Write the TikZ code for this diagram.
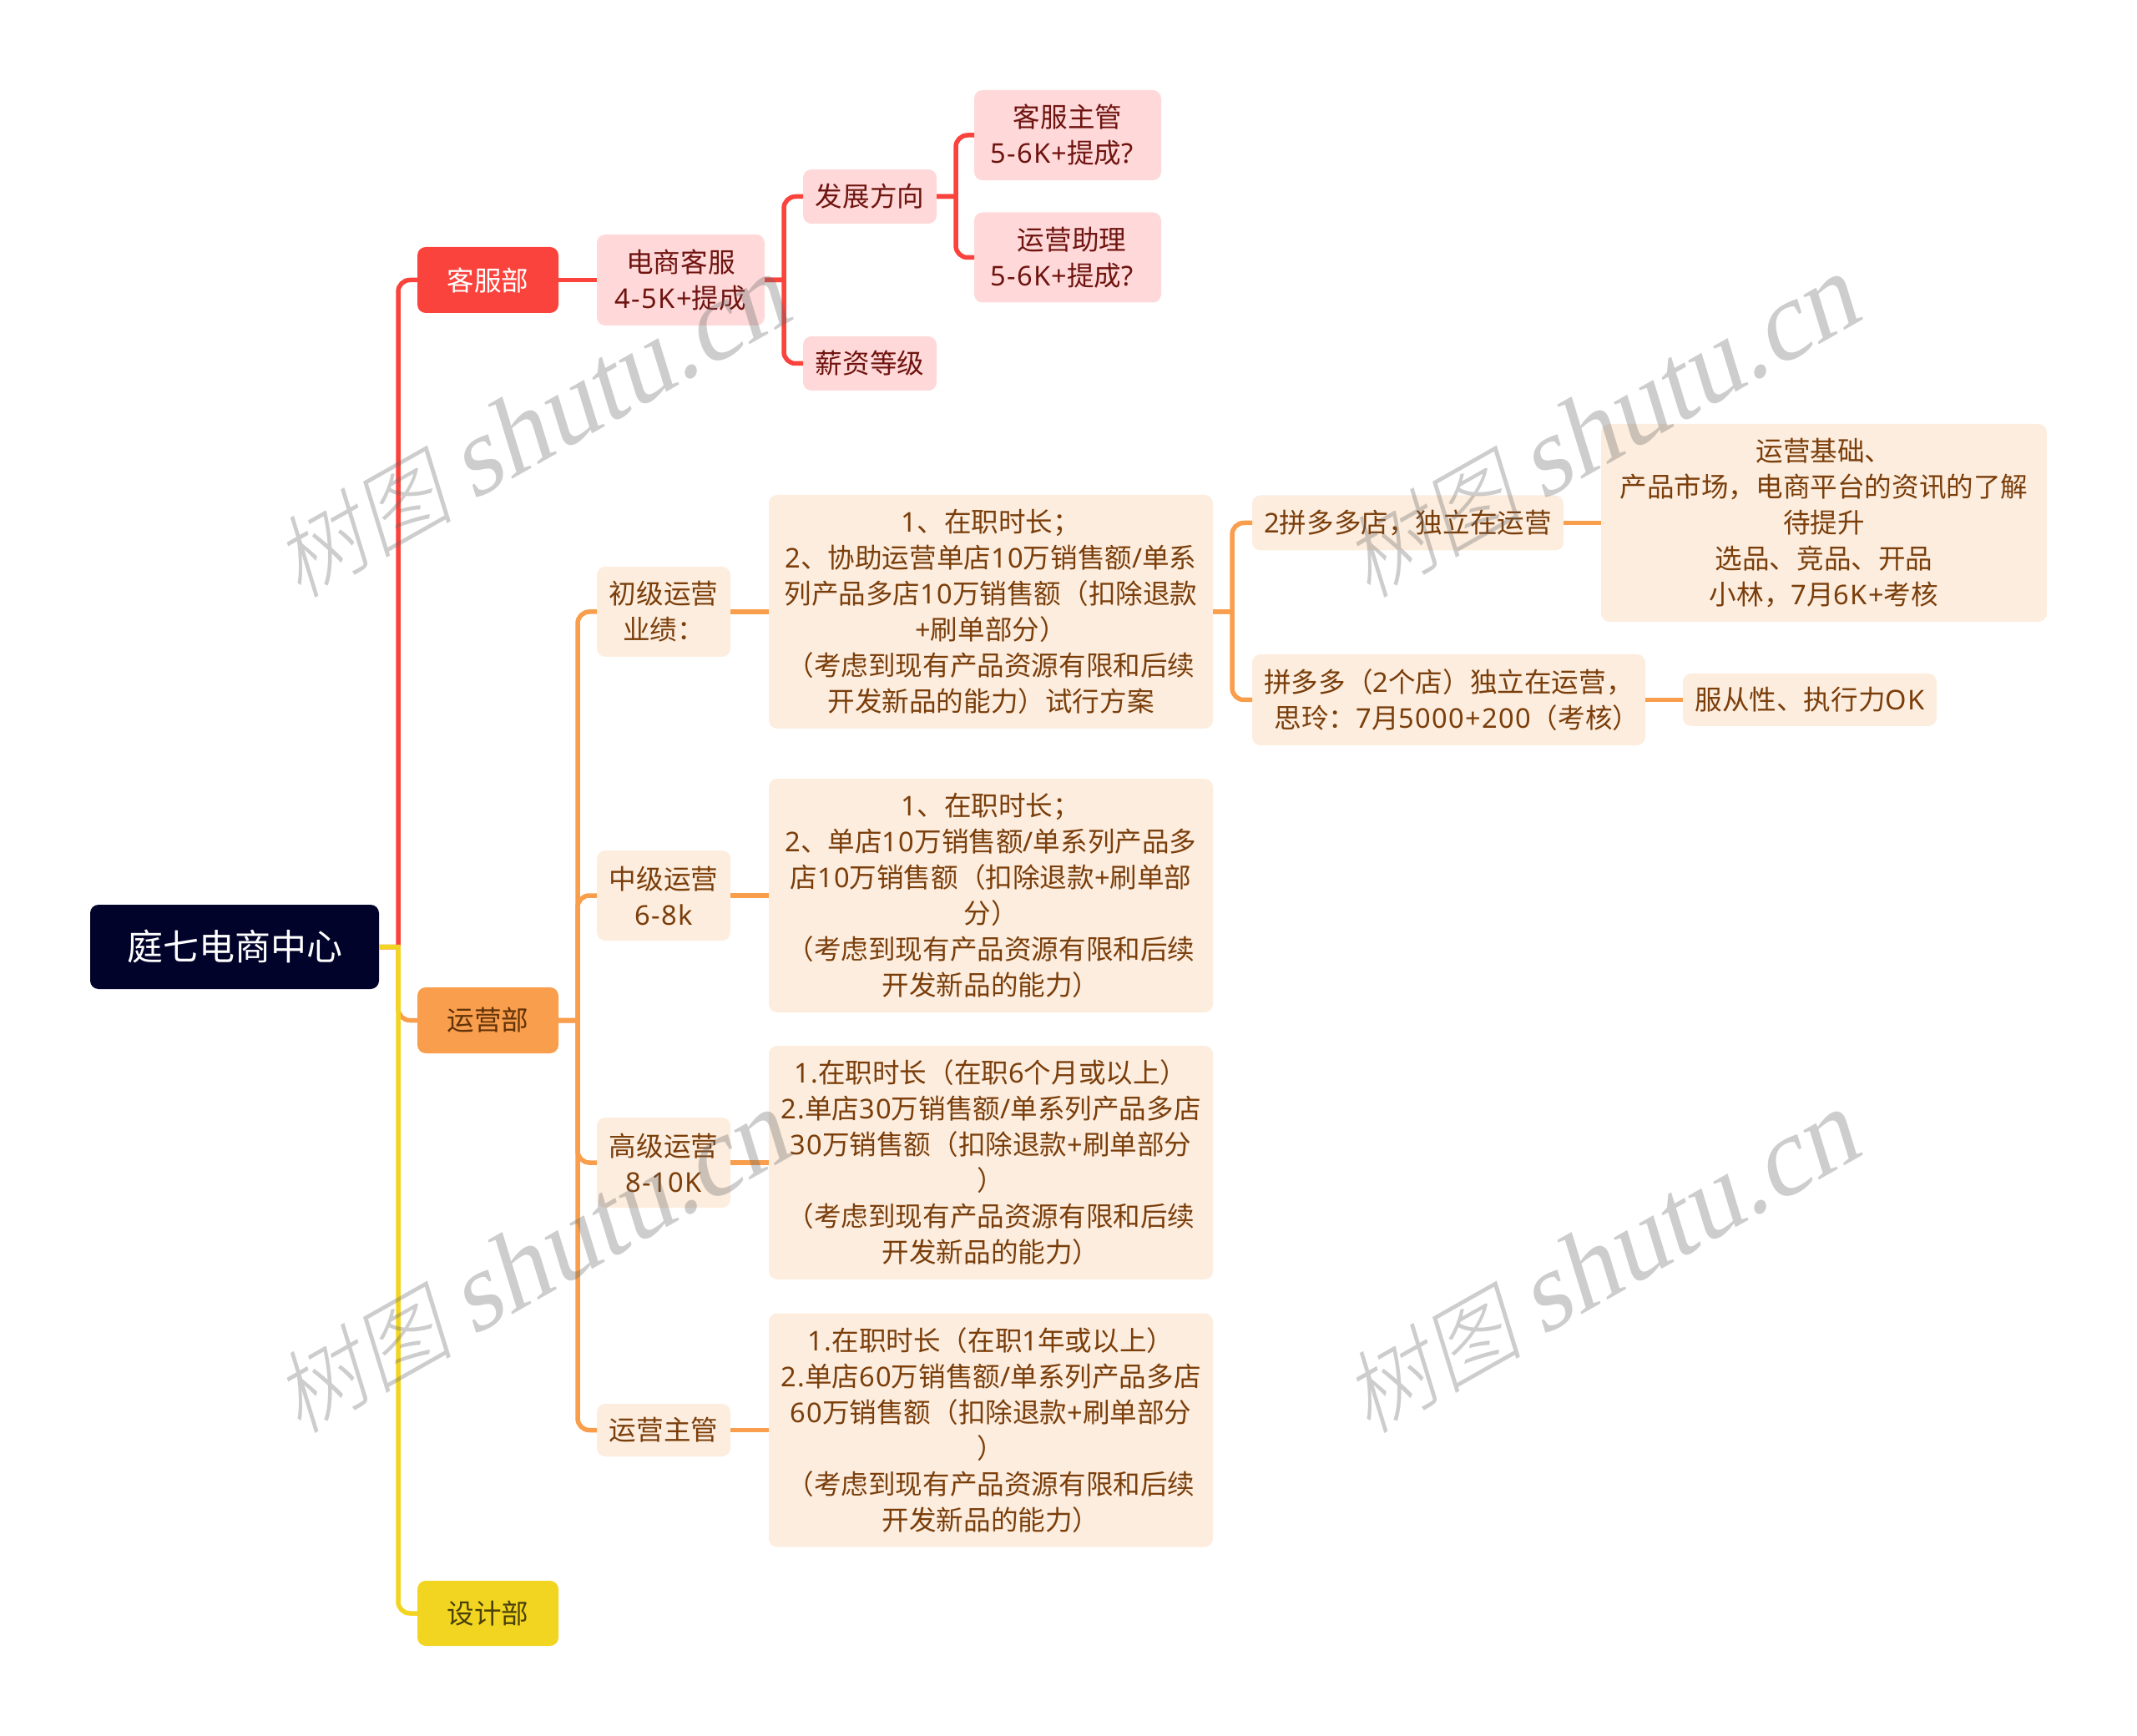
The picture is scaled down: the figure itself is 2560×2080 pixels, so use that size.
\documentclass[tikz,border=0pt]{standalone}
\usepackage{fontspec}
\setmainfont{Noto Sans CJK SC}
\newfontfamily\markcjk[FakeSlant=0.22]{Noto Sans CJK SC Light}
\newfontfamily\marklatin[FakeSlant=0.22]{Liberation Serif}
\newfontfamily\latinfont[LetterSpace=4]{Noto Sans}
\newcommand{\la}[1]{{\latinfont #1}}
\usetikzlibrary{positioning}
\definecolor{rootnavy}{HTML}{02032B}
\definecolor{redmain}{HTML}{FA433C}
\definecolor{redsoft}{HTML}{FFD9D9}
\definecolor{redtext}{HTML}{6F1410}
\definecolor{orangemain}{HTML}{F89E4C}
\definecolor{orangesoft}{HTML}{FDEDDE}
\definecolor{orangetext}{HTML}{7A3E0B}
\definecolor{yellowmain}{HTML}{F2D521}
\tikzset{
  every picture/.append style={x=.5pt,y=.5pt},
  every box/.style={rectangle,rounded corners=5pt,inner sep=0pt,outer sep=0pt,align=center,font=\fontsize{16.3}{21.5}\selectfont},
  rootbox/.style={every box,fill=rootnavy,text=white,font=\fontsize{21.5}{26}\selectfont},
  redhead/.style={every box,fill=redmain,text=white},
  orangehead/.style={every box,fill=orangemain,text=orangetext!80!black},
  yellowhead/.style={every box,fill=yellowmain,text=black!70!yellowmain},
  redbox/.style={every box,fill=redsoft,text=redtext},
  orangebox/.style={every box,fill=orangesoft,text=orangetext},
  wire/.style={line width=2.75pt,rounded corners=7pt},
  elbow/.style={wire,to path={(\tikztostart.east) -- ++(25.7,0) (\tikztostart.east) ++(23,0) |- (\tikztotarget.west)}},
  straight/.style={wire,to path={(\tikztostart.east) -- (\tikztotarget.west)}},
  shutu/.style={rotate=29.5,text=black!60,text opacity=.33}
}
\newcommand{\shutumark}{{\fontsize{54}{54}\markcjk 树图}\hspace{12pt}{\fontsize{66}{66}\marklatin shutu.cn}}

\begin{document}
\begin{tikzpicture}
    \useasboundingbox (0,0) rectangle (2560,-2080);

    \node (node root) [rootbox,minimum width=173pt,minimum height=50.5pt] at (281,-1134.5) {庭七电商中心};

    \node (node kefu) [redhead,minimum width=84.5pt,minimum height=39.5pt,right=23pt of node root,yshift=399.5pt] {客服部};
    \node (node yunying) [orangehead,minimum width=84.5pt,minimum height=39.5pt,right=23pt of node root,yshift=-44pt] {运营部};
    \node (node sheji) [yellowhead,minimum width=84.5pt,minimum height=39pt,right=23pt of node root,yshift=-399.25pt] {设计部};

    \node (node dianshang) [redbox,minimum width=100.5pt,minimum height=54.5pt,right=23pt of node kefu] {电商客服\\\la{4-5K+}提成};
    \node (node fazhan) [redbox,minimum width=80pt,minimum height=32.5pt,right=23pt of node dianshang,yshift=50pt] {发展方向};
    \node (node xinzi) [redbox,minimum width=80pt,minimum height=32.5pt,right=23pt of node dianshang,yshift=-50pt] {薪资等级};
    \node (node kezhu) [redbox,minimum width=112pt,minimum height=54pt,right=22.5pt of node fazhan,yshift=36.75pt] {客服主管\\\la{5-6K+}提成\la{?}\kern7pt};
    \node (node zhuli) [redbox,minimum width=112pt,minimum height=54pt,right=22.5pt of node fazhan,yshift=-36.5pt] {\kern5pt 运营助理\\\la{5-6K+}提成\la{?}\kern7pt};

    \node (node chuji) [orangebox,minimum width=80pt,minimum height=54pt,right=23pt of node yunying,yshift=244.75pt] {初级运营\\业绩：};
    \node (node zhongji) [orangebox,minimum width=80pt,minimum height=54pt,right=23pt of node yunying,yshift=74.75pt] {中级运营\\\la{6-8k}};
    \node (node gaoji) [orangebox,minimum width=80pt,minimum height=54pt,right=23pt of node yunying,yshift=-85.25pt] {高级运营\\\la{8-10K}};
    \node (node zhuguan) [orangebox,minimum width=80pt,minimum height=31.5pt,right=23pt of node yunying,yshift=-245.5pt] {运营主管};

    \node (node chujibox) [orangebox,minimum width=266pt,minimum height=140pt,right=23pt of node chuji] {\la{1}、在职时长；\\\la{2}、协助运营单店\la{10}万销售额\la{/}单系\\列产品多店\la{10}万销售额（扣除退款\\\la{+}刷单部分）\\（考虑到现有产品资源有限和后续\\开发新品的能力）试行方案};
    \node (node zhongjibox) [orangebox,minimum width=266pt,minimum height=140pt,right=23pt of node zhongji] {\la{1}、在职时长；\\\la{2}、单店\la{10}万销售额\la{/}单系列产品多\\店\la{10}万销售额（扣除退款\la{+}刷单部\\分）\\（考虑到现有产品资源有限和后续\\开发新品的能力）};
    \node (node gaojibox) [orangebox,minimum width=266pt,minimum height=140pt,right=23pt of node gaoji] {\la{1.}在职时长（在职\la{6}个月或以上）\\\la{2.}单店\la{30}万销售额\la{/}单系列产品多店\\\la{30}万销售额（扣除退款\la{+}刷单部分\\）\\（考虑到现有产品资源有限和后续\\开发新品的能力）};
    \node (node zhuguanbox) [orangebox,minimum width=266pt,minimum height=140pt,right=23pt of node zhuguan] {\la{1.}在职时长（在职\la{1}年或以上）\\\la{2.}单店\la{60}万销售额\la{/}单系列产品多店\\\la{60}万销售额（扣除退款\la{+}刷单部分\\）\\（考虑到现有产品资源有限和后续\\开发新品的能力）};

    \node (node pin 1) [orangebox,minimum width=186.5pt,minimum height=33pt,right=23.5pt of node chujibox,yshift=53.25pt] {\la{2}拼多多店，独立在运营};
    \node (node pin 2) [orangebox,minimum width=235.5pt,minimum height=54.5pt,right=23.5pt of node chujibox,yshift=-52.75pt] {拼多多（\la{2}个店）独立在运营，\\\kern10pt 思玲：\la{7}月\la{5000+200}（考核）};
    \node (node jichu) [orangebox,minimum width=267pt,minimum height=118.5pt,right=22.5pt of node pin 1] {运营基础、\\产品市场，电商平台的资讯的了解\\待提升\\选品、竞品、开品\\小林，\la{7}月\la{6K+}考核};
    \node (node fucong) [orangebox,minimum width=152pt,minimum height=31.5pt,right=22.5pt of node pin 2] {服从性、执行力\la{OK}};

    \path [redmain] (node root) edge[elbow] (node kefu)
          (node kefu) edge[straight] (node dianshang)
          (node dianshang) edge[elbow] (node fazhan)
          (node dianshang) edge[elbow] (node xinzi)
          (node fazhan) edge[elbow] (node kezhu)
          (node fazhan) edge[elbow] (node zhuli);

    \path [orangemain] (node root) edge[elbow] (node yunying)
          (node yunying) edge[elbow] (node chuji)
          (node yunying) edge[elbow] (node zhongji)
          (node yunying) edge[elbow] (node gaoji)
          (node yunying) edge[elbow] (node zhuguan)
          (node chuji) edge[straight] (node chujibox)
          (node zhongji) edge[straight] (node zhongjibox)
          (node gaoji) edge[straight] (node gaojibox)
          (node zhuguan) edge[straight] (node zhuguanbox)
          (node chujibox) edge[elbow] (node pin 1)
          (node chujibox) edge[elbow] (node pin 2)
          (node pin 1) edge[straight] (node jichu)
          (node pin 2) edge[straight] (node fucong);

    \path [yellowmain] (node root) edge[elbow] (node sheji);

    \node (mark 1) [shutu] at (635,-514) {\shutumark};
    \node (mark 2) [shutu] at (1916,-514) {\shutumark};
    \node (mark 3) [shutu] at (635,-1515) {\shutumark};
    \node (mark 4) [shutu] at (1916,-1515) {\shutumark};
\end{tikzpicture}
\end{document}
